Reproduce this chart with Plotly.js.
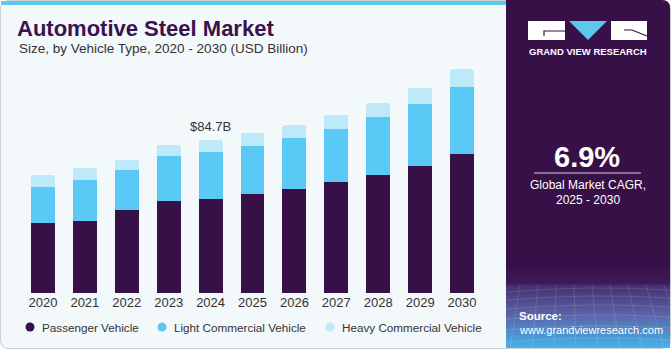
<!DOCTYPE html>
<html>
<head>
<meta charset="utf-8">
<script src="https://cdn.plot.ly/plotly-3.0.1.min.js"></script>
<style>html,body{margin:0;padding:0;background:#fff;}#chart{width:671px;height:350px;}</style>
</head>
<body>
<div id="chart"></div>
<script>
// ---- data ----
const years = ['2020','2021','2022','2023','2024','2025','2026','2027','2028','2029','2030'];
const passenger = [38.8, 40.0, 45.9, 51.1, 52.2, 54.8, 57.4, 61.4, 65.3, 70.5, 76.9];
const lightCommercial = [19.9, 22.5, 22.3, 24.9, 26.0, 26.6, 28.4, 29.3, 32.1, 34.2, 37.1];
const heavyCommercial = [6.6, 6.6, 5.4, 5.9, 6.5, 7.2, 7.0, 7.9, 7.6, 8.9, 9.8];
const seriesNames = ['Passenger Vehicle', 'Light Commercial Vehicle', 'Heavy Commercial Vehicle'];
const highlightYear = '2024';
const cagrText = '6.9%';

// ---- geometry ----
const W = 671, H = 350, L = 22, R = 188, T = 60, B = 57;
const PW = W - L - R, PH = H - T - B;
const px = x => (x - L) / PW;
const py = y => (H - B - y) / PH;

const colors = ['#371047', '#5bc9f5', '#bde9f9'];
const seriesData = [passenger, lightCommercial, heavyCommercial];
const FONT = 'Liberation Sans, Arial, sans-serif';

const traces = seriesData.map((vals, i) => ({
  type: 'bar', x: years, y: vals, name: seriesNames[i],
  marker: {color: colors[i], line: {width: 0}},
  showlegend: false, hoverinfo: 'skip'
}));

const hi = years.indexOf(highlightYear);
const hiTotal = passenger[hi] + lightCommercial[hi] + heavyCommercial[hi];

// background svg (frame, top strip, side panel, logo)
const svg = `<svg xmlns="http://www.w3.org/2000/svg" width="671" height="350" viewBox="0 0 671 350">
<defs>
<linearGradient id="g" x1="0" y1="0" x2="0" y2="1">
<stop offset="0" stop-color="#371047"/>
<stop offset="0.22" stop-color="#3d1b57"/>
<stop offset="0.25" stop-color="#45306f"/>
<stop offset="0.6" stop-color="#5b63a8"/>
<stop offset="1" stop-color="#45b3ea"/>
</linearGradient>
<clipPath id="c"><rect x="506" y="265" width="164" height="83"/></clipPath>
</defs>
<rect x="0" y="0" width="671" height="350" fill="#ffffff"/>
<rect x="0.5" y="0.5" width="670" height="348" rx="8" ry="8" fill="#f3f8fb" stroke="#cdd0d3" stroke-width="1"/>
<rect x="1" y="1" width="505" height="4" fill="#5bc8f0"/>
<path d="M506 0 H662 Q670 0 670 8 V348 H506 Z" fill="#371047"/>
<rect x="506" y="265" width="164" height="83" fill="url(#g)"/>
<g clip-path="url(#c)" stroke="#ffffff" stroke-opacity="0.18" stroke-width="0.7" fill="none">
<path d="M506 292 Q588 285 670 290"/><path d="M506 300 Q588 293 670 298"/><path d="M506 309 Q588 302 670 307"/>
<path d="M506 319 Q588 312 670 317"/><path d="M506 330 Q588 323 670 328"/><path d="M506 342 Q588 335 670 340"/>
<path d="M520 285 L510 348"/><path d="M538 285 L532 348"/><path d="M556 285 L554 348"/><path d="M574 285 L576 348"/>
<path d="M592 285 L598 348"/><path d="M610 285 L620 348"/><path d="M628 285 L642 348"/><path d="M646 285 L664 348"/>
<path d="M664 285 L686 348"/>
</g>
<rect x="528" y="21" width="37" height="19" fill="#ffffff"/>
<path d="M565 31 H544 V36" stroke="#371047" stroke-width="1.2" fill="none"/>
<path d="M569 21 H607 L588 40 Z" fill="#5bc8f0"/>
<rect x="611" y="21" width="36" height="19" fill="#ffffff"/>
<path d="M624 30 H632 L647 36" stroke="#371047" stroke-width="1.2" fill="none"/>
<line x1="534" y1="173" x2="641" y2="173" stroke="#d8d2df" stroke-width="1"/>
</svg>`;
const svgUri = 'data:image/svg+xml;charset=utf-8,' + encodeURIComponent(svg);

const white = '#ffffff';
const annotations = [
  {xref: 'paper', yref: 'paper', x: px(17), y: py(49), xanchor: 'left', yanchor: 'middle', showarrow: false,
   text: 'Size, by Vehicle Type, 2020 - 2030 (USD Billion)', font: {family: FONT, size: 13.5, color: '#333333'}},
  {xref: 'x', yref: 'y', x: hi, y: hiTotal, xanchor: 'center', yanchor: 'bottom', yshift: 4, showarrow: false,
   text: '$' + hiTotal.toFixed(1) + 'B', font: {family: FONT, size: 13, color: '#333333'}},
  {xref: 'paper', yref: 'paper', x: px(587.5), y: py(52), xanchor: 'center', yanchor: 'middle', showarrow: false,
   text: '<b>GRAND VIEW RESEARCH</b>', font: {family: FONT, size: 9.5, color: white}},
  {xref: 'paper', yref: 'paper', x: px(587), y: py(157), xanchor: 'center', yanchor: 'middle', showarrow: false,
   text: '<b>' + cagrText + '</b>', font: {family: FONT, size: 29, color: white}},
  {xref: 'paper', yref: 'paper', x: px(587.5), y: py(185), xanchor: 'center', yanchor: 'middle', showarrow: false,
   text: 'Global Market CAGR,', font: {family: FONT, size: 12, color: white}},
  {xref: 'paper', yref: 'paper', x: px(587.5), y: py(200), xanchor: 'center', yanchor: 'middle', showarrow: false,
   text: '2025 - 2030', font: {family: FONT, size: 12, color: white}},
  {xref: 'paper', yref: 'paper', x: px(517), y: py(316), xanchor: 'left', yanchor: 'middle', showarrow: false,
   text: '<b>Source:</b>', font: {family: FONT, size: 11.5, color: white}},
  {xref: 'paper', yref: 'paper', x: px(517), y: py(330), xanchor: 'left', yanchor: 'middle', showarrow: false,
   text: 'www.grandviewresearch.com', font: {family: FONT, size: 11, color: white}}
];

// manual legend (circles + labels)
const legendX = [30, 162, 330];
const legendY = 327;
const shapes = [];
seriesNames.forEach((nm, i) => {
  shapes.push({type: 'circle', xref: 'paper', yref: 'paper', layer: 'above',
    x0: px(legendX[i] - 4.5), x1: px(legendX[i] + 4.5), y0: py(legendY + 4.5), y1: py(legendY - 4.5),
    fillcolor: colors[i], line: {width: 0}});
  annotations.push({xref: 'paper', yref: 'paper', x: px(legendX[i] + 10), y: py(legendY), xanchor: 'left', yanchor: 'middle',
    showarrow: false, text: nm, font: {family: FONT, size: 11.7, color: '#333333'}});
});

const layout = {
  width: W, height: H,
  margin: {l: L, r: R, t: T, b: B, pad: 0},
  paper_bgcolor: '#ffffff', plot_bgcolor: 'rgba(0,0,0,0)',
  barmode: 'stack', bargap: 0.43, barcornerradius: 2,
  title: {text: '<b>Automotive Steel Market</b>', x: 17 / W, xref: 'container', xanchor: 'left',
          y: 1 - 28 / H, yref: 'container', yanchor: 'middle',
          font: {family: FONT, size: 22, color: '#3a1250'}},
  xaxis: {type: 'category', categoryorder: 'array', categoryarray: years, range: [-0.5, years.length - 0.5],
          showgrid: false, zeroline: false, showline: false, ticks: '',
          tickfont: {family: FONT, size: 13, color: '#333333'}, fixedrange: true},
  yaxis: {visible: false, range: [0, 129], fixedrange: true},
  showlegend: false,
  images: [{source: svgUri, xref: 'paper', yref: 'paper', x: px(0), y: py(0), sizex: W / PW, sizey: H / PH,
            xanchor: 'left', yanchor: 'top', sizing: 'stretch', layer: 'below'}],
  shapes: shapes,
  annotations: annotations,
  hovermode: false
};

Plotly.newPlot('chart', traces, layout, {displayModeBar: false, staticPlot: true});
</script>
</body>
</html>
